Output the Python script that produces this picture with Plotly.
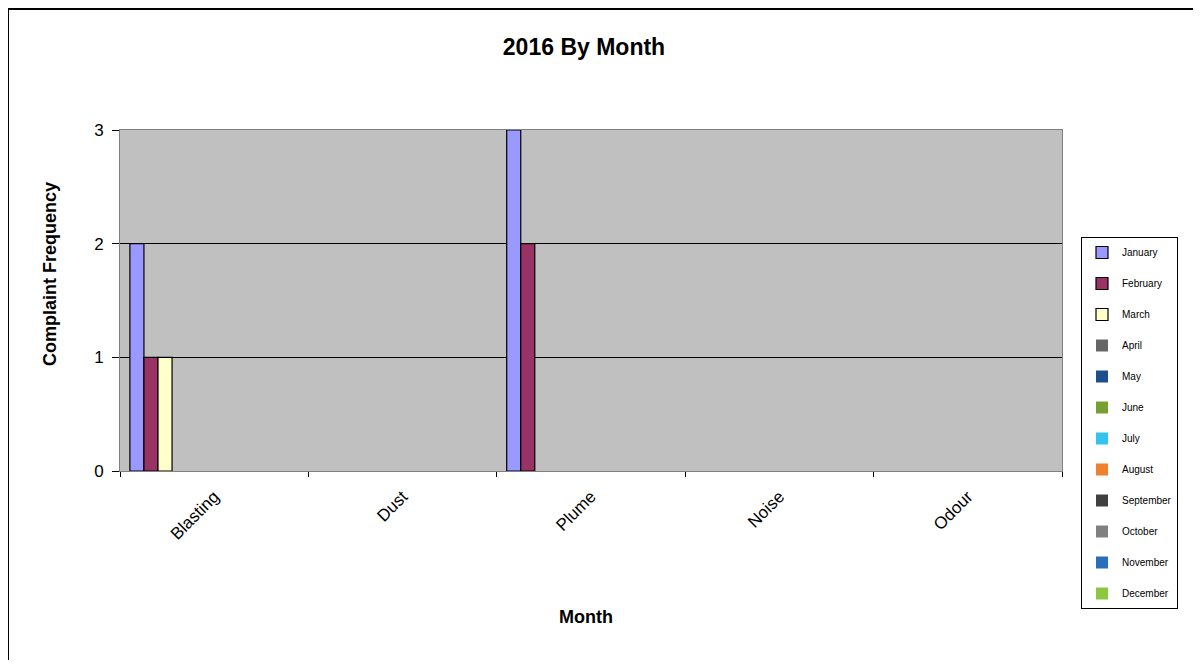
import plotly.graph_objects as go

categories = ["Blasting", "Dust", "Plume", "Noise", "Odour"]
months = ["January", "February", "March", "April", "May", "June", "July",
          "August", "September", "October", "November", "December"]
january = [2, 0, 3, 0, 0]
february = [1, 0, 2, 0, 0]
march = [1, 0, 0, 0, 0]
april = [0, 0, 0, 0, 0]
may = [0, 0, 0, 0, 0]
june = [0, 0, 0, 0, 0]
july = [0, 0, 0, 0, 0]
august = [0, 0, 0, 0, 0]
september = [0, 0, 0, 0, 0]
october = [0, 0, 0, 0, 0]
november = [0, 0, 0, 0, 0]
december = [0, 0, 0, 0, 0]
series = [january, february, march, april, may, june, july, august,
          september, october, november, december]
colors = ["#9999FF", "#993366", "#FFFFCC", "#666666", "#1F4E8C", "#77A033",
          "#33C3EE", "#F07F2F", "#404040", "#808080", "#2A6EBB", "#8DC63F"]
y_ticks = [0, 1, 2, 3]

fig = go.Figure()
for i, (name, vals, col) in enumerate(zip(months, series, colors)):
    has_border = i < 3
    fig.add_trace(go.Bar(
        x=categories,
        y=[v if v else None for v in vals],
        name=name,
        legendgroup=name,
        marker=dict(color=col,
                    line=dict(color="#000000", width=1.2 if has_border else 0)),
    ))

OFF = 8  # page body margin
W, H = 1201 - 2 * OFF, 668 - 2 * OFF
L, T = 120 - OFF, 130 - OFF
R = W - (1062 - OFF)
B = H - (471 - OFF)
pw, ph = W - L - R, H - T - B

def px(x):
    return (x - OFF - L) / pw

def py(y):
    return 1 - (y - OFF - T) / ph

FONT = "Arial, Liberation Sans, sans-serif"

fig.update_layout(
    width=W, height=H,
    margin=dict(l=L, r=R, t=T, b=B),
    paper_bgcolor="white",
    plot_bgcolor="#C0C0C0",
    barmode="group",
    bargap=0.105,
    bargroupgap=0,
    font=dict(family=FONT, color="#000000"),
    title=dict(text="<b>2016 By Month</b>", x=px(584), xanchor="center",
               xref="paper",
               y=1 - (47 - OFF) / H, yanchor="middle",
               font=dict(size=23, family=FONT)),
    showlegend=True,
    legend=dict(x=px(1081), xanchor="left", y=py(237), yanchor="top",
                bgcolor="white", bordercolor="#000000", borderwidth=1,
                font=dict(size=10, color="#000000"), tracegroupgap=12,
                itemwidth=30, traceorder="grouped", maxheight=600),
    xaxis=dict(
        type="category",
        tickson="boundaries",
        ticks="outside", ticklen=5, tickcolor="#000000",
        tickangle=-45,
        tickfont=dict(size=17),
        ticklabelstandoff=8,
        showline=True, linecolor="#808080", linewidth=1, mirror=True,
        showgrid=False,
    ),
    yaxis=dict(
        range=[0, 3],
        tickvals=y_ticks,
        ticks="outside", ticklen=7, tickcolor="#000000",
        tickfont=dict(size=17),
        ticklabelstandoff=5,
        showline=True, linecolor="#808080", linewidth=1, mirror=True,
        showgrid=True, gridcolor="#000000", gridwidth=1,
        zeroline=False,
    ),
    annotations=[
        dict(text="<b>Month</b>", xref="paper", yref="paper",
             x=px(586), y=py(617), xanchor="center", yanchor="middle",
             showarrow=False, font=dict(size=18, family=FONT)),
        dict(text="<b>Complaint Frequency</b>", xref="paper", yref="paper",
             x=px(50), y=py(274), xanchor="center", yanchor="middle",
             textangle=-90, showarrow=False, font=dict(size=18, family=FONT)),
    ],
)

# outer chart frame (left and top edges visible)
fig.add_shape(type="line", xref="paper", yref="paper",
              x0=px(8), x1=px(8), y0=py(680), y1=py(9),
              line=dict(color="#000000", width=2))
fig.add_shape(type="line", xref="paper", yref="paper",
              x0=px(8), x1=px(1215), y0=py(9), y1=py(9),
              line=dict(color="#000000", width=2))

fig.write_html("out.html")
